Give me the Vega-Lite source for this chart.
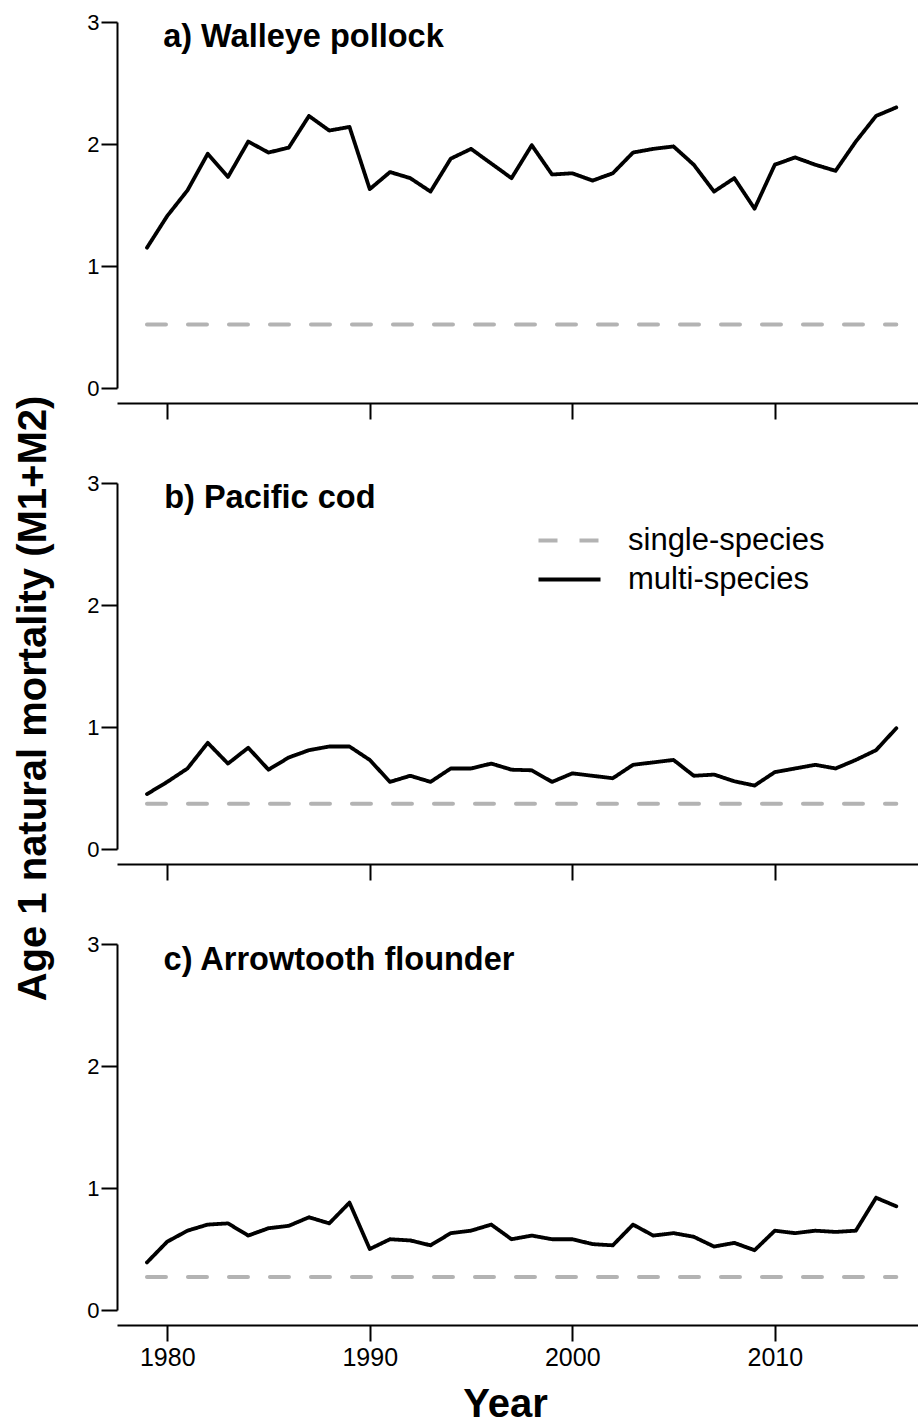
{
  "$schema": "https://vega.github.io/schema/vega-lite/v6.json",
  "background": "white",
  "padding": {"left": 12, "top": 11, "right": 0, "bottom": 0},
  "bounds": "flush",
  "spacing": 95,
  "config": {
    "view": {"stroke": null},
    "font": "Liberation Sans",
    "axis": {
      "grid": false,
      "domainColor": "black",
      "domainWidth": 2,
      "tickColor": "black",
      "tickWidth": 2,
      "labelColor": "black",
      "labelFont": "Liberation Sans",
      "titleFont": "Liberation Sans",
      "titleColor": "black"
    },
    "legend": {"labelFont": "Liberation Sans", "labelColor": "black"}
  },
  "resolve": {
    "scale": {"x": "independent", "y": "independent", "color": "independent", "strokeDash": "independent", "strokeWidth": "independent"},
    "axis": {"x": "independent", "y": "independent"},
    "legend": {"color": "independent", "strokeDash": "independent", "strokeWidth": "independent"}
  },
  "datasets": {
    "mort": [
      {"panel": "a", "year": 1979, "type": "multi-species", "value": 1.15},
      {"panel": "a", "year": 1980, "type": "multi-species", "value": 1.41},
      {"panel": "a", "year": 1981, "type": "multi-species", "value": 1.62},
      {"panel": "a", "year": 1982, "type": "multi-species", "value": 1.92},
      {"panel": "a", "year": 1983, "type": "multi-species", "value": 1.73},
      {"panel": "a", "year": 1984, "type": "multi-species", "value": 2.02},
      {"panel": "a", "year": 1985, "type": "multi-species", "value": 1.93},
      {"panel": "a", "year": 1986, "type": "multi-species", "value": 1.97},
      {"panel": "a", "year": 1987, "type": "multi-species", "value": 2.23},
      {"panel": "a", "year": 1988, "type": "multi-species", "value": 2.11},
      {"panel": "a", "year": 1989, "type": "multi-species", "value": 2.14},
      {"panel": "a", "year": 1990, "type": "multi-species", "value": 1.63},
      {"panel": "a", "year": 1991, "type": "multi-species", "value": 1.77},
      {"panel": "a", "year": 1992, "type": "multi-species", "value": 1.72},
      {"panel": "a", "year": 1993, "type": "multi-species", "value": 1.61},
      {"panel": "a", "year": 1994, "type": "multi-species", "value": 1.88},
      {"panel": "a", "year": 1995, "type": "multi-species", "value": 1.96},
      {"panel": "a", "year": 1996, "type": "multi-species", "value": 1.84},
      {"panel": "a", "year": 1997, "type": "multi-species", "value": 1.72},
      {"panel": "a", "year": 1998, "type": "multi-species", "value": 1.99},
      {"panel": "a", "year": 1999, "type": "multi-species", "value": 1.75},
      {"panel": "a", "year": 2000, "type": "multi-species", "value": 1.76},
      {"panel": "a", "year": 2001, "type": "multi-species", "value": 1.70},
      {"panel": "a", "year": 2002, "type": "multi-species", "value": 1.76},
      {"panel": "a", "year": 2003, "type": "multi-species", "value": 1.93},
      {"panel": "a", "year": 2004, "type": "multi-species", "value": 1.96},
      {"panel": "a", "year": 2005, "type": "multi-species", "value": 1.98},
      {"panel": "a", "year": 2006, "type": "multi-species", "value": 1.83},
      {"panel": "a", "year": 2007, "type": "multi-species", "value": 1.61},
      {"panel": "a", "year": 2008, "type": "multi-species", "value": 1.72},
      {"panel": "a", "year": 2009, "type": "multi-species", "value": 1.47},
      {"panel": "a", "year": 2010, "type": "multi-species", "value": 1.83},
      {"panel": "a", "year": 2011, "type": "multi-species", "value": 1.89},
      {"panel": "a", "year": 2012, "type": "multi-species", "value": 1.83},
      {"panel": "a", "year": 2013, "type": "multi-species", "value": 1.78},
      {"panel": "a", "year": 2014, "type": "multi-species", "value": 2.02},
      {"panel": "a", "year": 2015, "type": "multi-species", "value": 2.23},
      {"panel": "a", "year": 2016, "type": "multi-species", "value": 2.30},
      {"panel": "a", "year": 1979, "type": "single-species", "value": 0.52},
      {"panel": "a", "year": 1980, "type": "single-species", "value": 0.52},
      {"panel": "a", "year": 1981, "type": "single-species", "value": 0.52},
      {"panel": "a", "year": 1982, "type": "single-species", "value": 0.52},
      {"panel": "a", "year": 1983, "type": "single-species", "value": 0.52},
      {"panel": "a", "year": 1984, "type": "single-species", "value": 0.52},
      {"panel": "a", "year": 1985, "type": "single-species", "value": 0.52},
      {"panel": "a", "year": 1986, "type": "single-species", "value": 0.52},
      {"panel": "a", "year": 1987, "type": "single-species", "value": 0.52},
      {"panel": "a", "year": 1988, "type": "single-species", "value": 0.52},
      {"panel": "a", "year": 1989, "type": "single-species", "value": 0.52},
      {"panel": "a", "year": 1990, "type": "single-species", "value": 0.52},
      {"panel": "a", "year": 1991, "type": "single-species", "value": 0.52},
      {"panel": "a", "year": 1992, "type": "single-species", "value": 0.52},
      {"panel": "a", "year": 1993, "type": "single-species", "value": 0.52},
      {"panel": "a", "year": 1994, "type": "single-species", "value": 0.52},
      {"panel": "a", "year": 1995, "type": "single-species", "value": 0.52},
      {"panel": "a", "year": 1996, "type": "single-species", "value": 0.52},
      {"panel": "a", "year": 1997, "type": "single-species", "value": 0.52},
      {"panel": "a", "year": 1998, "type": "single-species", "value": 0.52},
      {"panel": "a", "year": 1999, "type": "single-species", "value": 0.52},
      {"panel": "a", "year": 2000, "type": "single-species", "value": 0.52},
      {"panel": "a", "year": 2001, "type": "single-species", "value": 0.52},
      {"panel": "a", "year": 2002, "type": "single-species", "value": 0.52},
      {"panel": "a", "year": 2003, "type": "single-species", "value": 0.52},
      {"panel": "a", "year": 2004, "type": "single-species", "value": 0.52},
      {"panel": "a", "year": 2005, "type": "single-species", "value": 0.52},
      {"panel": "a", "year": 2006, "type": "single-species", "value": 0.52},
      {"panel": "a", "year": 2007, "type": "single-species", "value": 0.52},
      {"panel": "a", "year": 2008, "type": "single-species", "value": 0.52},
      {"panel": "a", "year": 2009, "type": "single-species", "value": 0.52},
      {"panel": "a", "year": 2010, "type": "single-species", "value": 0.52},
      {"panel": "a", "year": 2011, "type": "single-species", "value": 0.52},
      {"panel": "a", "year": 2012, "type": "single-species", "value": 0.52},
      {"panel": "a", "year": 2013, "type": "single-species", "value": 0.52},
      {"panel": "a", "year": 2014, "type": "single-species", "value": 0.52},
      {"panel": "a", "year": 2015, "type": "single-species", "value": 0.52},
      {"panel": "a", "year": 2016, "type": "single-species", "value": 0.52},
      {"panel": "b", "year": 1979, "type": "multi-species", "value": 0.45},
      {"panel": "b", "year": 1980, "type": "multi-species", "value": 0.55},
      {"panel": "b", "year": 1981, "type": "multi-species", "value": 0.66},
      {"panel": "b", "year": 1982, "type": "multi-species", "value": 0.87},
      {"panel": "b", "year": 1983, "type": "multi-species", "value": 0.70},
      {"panel": "b", "year": 1984, "type": "multi-species", "value": 0.83},
      {"panel": "b", "year": 1985, "type": "multi-species", "value": 0.65},
      {"panel": "b", "year": 1986, "type": "multi-species", "value": 0.75},
      {"panel": "b", "year": 1987, "type": "multi-species", "value": 0.81},
      {"panel": "b", "year": 1988, "type": "multi-species", "value": 0.84},
      {"panel": "b", "year": 1989, "type": "multi-species", "value": 0.84},
      {"panel": "b", "year": 1990, "type": "multi-species", "value": 0.73},
      {"panel": "b", "year": 1991, "type": "multi-species", "value": 0.55},
      {"panel": "b", "year": 1992, "type": "multi-species", "value": 0.60},
      {"panel": "b", "year": 1993, "type": "multi-species", "value": 0.55},
      {"panel": "b", "year": 1994, "type": "multi-species", "value": 0.66},
      {"panel": "b", "year": 1995, "type": "multi-species", "value": 0.66},
      {"panel": "b", "year": 1996, "type": "multi-species", "value": 0.70},
      {"panel": "b", "year": 1997, "type": "multi-species", "value": 0.65},
      {"panel": "b", "year": 1998, "type": "multi-species", "value": 0.645},
      {"panel": "b", "year": 1999, "type": "multi-species", "value": 0.55},
      {"panel": "b", "year": 2000, "type": "multi-species", "value": 0.62},
      {"panel": "b", "year": 2001, "type": "multi-species", "value": 0.60},
      {"panel": "b", "year": 2002, "type": "multi-species", "value": 0.58},
      {"panel": "b", "year": 2003, "type": "multi-species", "value": 0.69},
      {"panel": "b", "year": 2004, "type": "multi-species", "value": 0.71},
      {"panel": "b", "year": 2005, "type": "multi-species", "value": 0.73},
      {"panel": "b", "year": 2006, "type": "multi-species", "value": 0.60},
      {"panel": "b", "year": 2007, "type": "multi-species", "value": 0.61},
      {"panel": "b", "year": 2008, "type": "multi-species", "value": 0.555},
      {"panel": "b", "year": 2009, "type": "multi-species", "value": 0.52},
      {"panel": "b", "year": 2010, "type": "multi-species", "value": 0.63},
      {"panel": "b", "year": 2011, "type": "multi-species", "value": 0.66},
      {"panel": "b", "year": 2012, "type": "multi-species", "value": 0.69},
      {"panel": "b", "year": 2013, "type": "multi-species", "value": 0.66},
      {"panel": "b", "year": 2014, "type": "multi-species", "value": 0.73},
      {"panel": "b", "year": 2015, "type": "multi-species", "value": 0.81},
      {"panel": "b", "year": 2016, "type": "multi-species", "value": 0.99},
      {"panel": "b", "year": 1979, "type": "single-species", "value": 0.37},
      {"panel": "b", "year": 1980, "type": "single-species", "value": 0.37},
      {"panel": "b", "year": 1981, "type": "single-species", "value": 0.37},
      {"panel": "b", "year": 1982, "type": "single-species", "value": 0.37},
      {"panel": "b", "year": 1983, "type": "single-species", "value": 0.37},
      {"panel": "b", "year": 1984, "type": "single-species", "value": 0.37},
      {"panel": "b", "year": 1985, "type": "single-species", "value": 0.37},
      {"panel": "b", "year": 1986, "type": "single-species", "value": 0.37},
      {"panel": "b", "year": 1987, "type": "single-species", "value": 0.37},
      {"panel": "b", "year": 1988, "type": "single-species", "value": 0.37},
      {"panel": "b", "year": 1989, "type": "single-species", "value": 0.37},
      {"panel": "b", "year": 1990, "type": "single-species", "value": 0.37},
      {"panel": "b", "year": 1991, "type": "single-species", "value": 0.37},
      {"panel": "b", "year": 1992, "type": "single-species", "value": 0.37},
      {"panel": "b", "year": 1993, "type": "single-species", "value": 0.37},
      {"panel": "b", "year": 1994, "type": "single-species", "value": 0.37},
      {"panel": "b", "year": 1995, "type": "single-species", "value": 0.37},
      {"panel": "b", "year": 1996, "type": "single-species", "value": 0.37},
      {"panel": "b", "year": 1997, "type": "single-species", "value": 0.37},
      {"panel": "b", "year": 1998, "type": "single-species", "value": 0.37},
      {"panel": "b", "year": 1999, "type": "single-species", "value": 0.37},
      {"panel": "b", "year": 2000, "type": "single-species", "value": 0.37},
      {"panel": "b", "year": 2001, "type": "single-species", "value": 0.37},
      {"panel": "b", "year": 2002, "type": "single-species", "value": 0.37},
      {"panel": "b", "year": 2003, "type": "single-species", "value": 0.37},
      {"panel": "b", "year": 2004, "type": "single-species", "value": 0.37},
      {"panel": "b", "year": 2005, "type": "single-species", "value": 0.37},
      {"panel": "b", "year": 2006, "type": "single-species", "value": 0.37},
      {"panel": "b", "year": 2007, "type": "single-species", "value": 0.37},
      {"panel": "b", "year": 2008, "type": "single-species", "value": 0.37},
      {"panel": "b", "year": 2009, "type": "single-species", "value": 0.37},
      {"panel": "b", "year": 2010, "type": "single-species", "value": 0.37},
      {"panel": "b", "year": 2011, "type": "single-species", "value": 0.37},
      {"panel": "b", "year": 2012, "type": "single-species", "value": 0.37},
      {"panel": "b", "year": 2013, "type": "single-species", "value": 0.37},
      {"panel": "b", "year": 2014, "type": "single-species", "value": 0.37},
      {"panel": "b", "year": 2015, "type": "single-species", "value": 0.37},
      {"panel": "b", "year": 2016, "type": "single-species", "value": 0.37},
      {"panel": "c", "year": 1979, "type": "multi-species", "value": 0.39},
      {"panel": "c", "year": 1980, "type": "multi-species", "value": 0.56},
      {"panel": "c", "year": 1981, "type": "multi-species", "value": 0.65},
      {"panel": "c", "year": 1982, "type": "multi-species", "value": 0.70},
      {"panel": "c", "year": 1983, "type": "multi-species", "value": 0.71},
      {"panel": "c", "year": 1984, "type": "multi-species", "value": 0.61},
      {"panel": "c", "year": 1985, "type": "multi-species", "value": 0.67},
      {"panel": "c", "year": 1986, "type": "multi-species", "value": 0.69},
      {"panel": "c", "year": 1987, "type": "multi-species", "value": 0.76},
      {"panel": "c", "year": 1988, "type": "multi-species", "value": 0.71},
      {"panel": "c", "year": 1989, "type": "multi-species", "value": 0.88},
      {"panel": "c", "year": 1990, "type": "multi-species", "value": 0.50},
      {"panel": "c", "year": 1991, "type": "multi-species", "value": 0.58},
      {"panel": "c", "year": 1992, "type": "multi-species", "value": 0.57},
      {"panel": "c", "year": 1993, "type": "multi-species", "value": 0.53},
      {"panel": "c", "year": 1994, "type": "multi-species", "value": 0.63},
      {"panel": "c", "year": 1995, "type": "multi-species", "value": 0.65},
      {"panel": "c", "year": 1996, "type": "multi-species", "value": 0.70},
      {"panel": "c", "year": 1997, "type": "multi-species", "value": 0.58},
      {"panel": "c", "year": 1998, "type": "multi-species", "value": 0.61},
      {"panel": "c", "year": 1999, "type": "multi-species", "value": 0.58},
      {"panel": "c", "year": 2000, "type": "multi-species", "value": 0.58},
      {"panel": "c", "year": 2001, "type": "multi-species", "value": 0.54},
      {"panel": "c", "year": 2002, "type": "multi-species", "value": 0.53},
      {"panel": "c", "year": 2003, "type": "multi-species", "value": 0.70},
      {"panel": "c", "year": 2004, "type": "multi-species", "value": 0.61},
      {"panel": "c", "year": 2005, "type": "multi-species", "value": 0.63},
      {"panel": "c", "year": 2006, "type": "multi-species", "value": 0.60},
      {"panel": "c", "year": 2007, "type": "multi-species", "value": 0.52},
      {"panel": "c", "year": 2008, "type": "multi-species", "value": 0.55},
      {"panel": "c", "year": 2009, "type": "multi-species", "value": 0.49},
      {"panel": "c", "year": 2010, "type": "multi-species", "value": 0.65},
      {"panel": "c", "year": 2011, "type": "multi-species", "value": 0.63},
      {"panel": "c", "year": 2012, "type": "multi-species", "value": 0.65},
      {"panel": "c", "year": 2013, "type": "multi-species", "value": 0.64},
      {"panel": "c", "year": 2014, "type": "multi-species", "value": 0.65},
      {"panel": "c", "year": 2015, "type": "multi-species", "value": 0.92},
      {"panel": "c", "year": 2016, "type": "multi-species", "value": 0.85},
      {"panel": "c", "year": 1979, "type": "single-species", "value": 0.27},
      {"panel": "c", "year": 1980, "type": "single-species", "value": 0.27},
      {"panel": "c", "year": 1981, "type": "single-species", "value": 0.27},
      {"panel": "c", "year": 1982, "type": "single-species", "value": 0.27},
      {"panel": "c", "year": 1983, "type": "single-species", "value": 0.27},
      {"panel": "c", "year": 1984, "type": "single-species", "value": 0.27},
      {"panel": "c", "year": 1985, "type": "single-species", "value": 0.27},
      {"panel": "c", "year": 1986, "type": "single-species", "value": 0.27},
      {"panel": "c", "year": 1987, "type": "single-species", "value": 0.27},
      {"panel": "c", "year": 1988, "type": "single-species", "value": 0.27},
      {"panel": "c", "year": 1989, "type": "single-species", "value": 0.27},
      {"panel": "c", "year": 1990, "type": "single-species", "value": 0.27},
      {"panel": "c", "year": 1991, "type": "single-species", "value": 0.27},
      {"panel": "c", "year": 1992, "type": "single-species", "value": 0.27},
      {"panel": "c", "year": 1993, "type": "single-species", "value": 0.27},
      {"panel": "c", "year": 1994, "type": "single-species", "value": 0.27},
      {"panel": "c", "year": 1995, "type": "single-species", "value": 0.27},
      {"panel": "c", "year": 1996, "type": "single-species", "value": 0.27},
      {"panel": "c", "year": 1997, "type": "single-species", "value": 0.27},
      {"panel": "c", "year": 1998, "type": "single-species", "value": 0.27},
      {"panel": "c", "year": 1999, "type": "single-species", "value": 0.27},
      {"panel": "c", "year": 2000, "type": "single-species", "value": 0.27},
      {"panel": "c", "year": 2001, "type": "single-species", "value": 0.27},
      {"panel": "c", "year": 2002, "type": "single-species", "value": 0.27},
      {"panel": "c", "year": 2003, "type": "single-species", "value": 0.27},
      {"panel": "c", "year": 2004, "type": "single-species", "value": 0.27},
      {"panel": "c", "year": 2005, "type": "single-species", "value": 0.27},
      {"panel": "c", "year": 2006, "type": "single-species", "value": 0.27},
      {"panel": "c", "year": 2007, "type": "single-species", "value": 0.27},
      {"panel": "c", "year": 2008, "type": "single-species", "value": 0.27},
      {"panel": "c", "year": 2009, "type": "single-species", "value": 0.27},
      {"panel": "c", "year": 2010, "type": "single-species", "value": 0.27},
      {"panel": "c", "year": 2011, "type": "single-species", "value": 0.27},
      {"panel": "c", "year": 2012, "type": "single-species", "value": 0.27},
      {"panel": "c", "year": 2013, "type": "single-species", "value": 0.27},
      {"panel": "c", "year": 2014, "type": "single-species", "value": 0.27},
      {"panel": "c", "year": 2015, "type": "single-species", "value": 0.27},
      {"panel": "c", "year": 2016, "type": "single-species", "value": 0.27}
    ]
  },
  "vconcat": [
    {
      "width": 802,
      "height": 366,
      "layer": [
        {
          "data": {"name": "mort"},
          "transform": [{"filter": "datum.panel === 'a'"}],
          "mark": {"type": "line", "strokeCap": "round", "strokeJoin": "round"},
          "encoding": {
            "x": {"field": "year", "type": "quantitative", "scale": {"domain": [1977.52, 2017.12], "nice": false, "zero": false},
                  "axis": {"values": [1980, 1990, 2000, 2010], "tickSize": 16, "labels": false, "title": null, "offset": 15}},
            "y": {"field": "value", "type": "quantitative", "scale": {"domain": [0, 3], "nice": false, "zero": false},
                  "axis": {"values": [0, 1, 2, 3], "tickSize": 16, "labelPadding": 2, "labelFontSize": 22, "format": "d", "title": null}},
            "color": {"field": "type", "type": "nominal", "scale": {"domain": ["single-species", "multi-species"], "range": ["#b3b3b3", "#000000"]}, "legend": null},
            "strokeDash": {"field": "type", "type": "nominal", "scale": {"domain": ["single-species", "multi-species"], "range": [[19, 22], [1, 0]]}, "legend": null},
            "strokeWidth": {"field": "type", "type": "nominal", "scale": {"domain": ["single-species", "multi-species"], "range": [4, 3.8]}, "legend": null}
          }
        },
        {
          "data": {"values": [{"label": "a) Walleye pollock"}]},
          "mark": {"type": "text", "align": "left", "baseline": "alphabetic", "fontSize": 32.5, "fontWeight": "bold", "font": "Liberation Sans", "color": "black"},
          "encoding": {"text": {"field": "label"}, "x": {"datum": 1979.8}, "y": {"datum": 2.795}}
        }
      ]
    },
    {
      "width": 802,
      "height": 366,
      "layer": [
        {
          "data": {"name": "mort"},
          "transform": [{"filter": "datum.panel === 'b'"}],
          "mark": {"type": "line", "strokeCap": "round", "strokeJoin": "round"},
          "encoding": {
            "x": {"field": "year", "type": "quantitative", "scale": {"domain": [1977.52, 2017.12], "nice": false, "zero": false},
                  "axis": {"values": [1980, 1990, 2000, 2010], "tickSize": 16, "labels": false, "title": null, "offset": 15}},
            "y": {"field": "value", "type": "quantitative", "scale": {"domain": [0, 3], "nice": false, "zero": false},
                  "axis": {"values": [0, 1, 2, 3], "tickSize": 16, "labelPadding": 2, "labelFontSize": 22, "format": "d",
                           "title": "Age 1 natural mortality (M1+M2)", "titleFontSize": 40, "titleFontWeight": "bold",
                           "titleX": -72, "titleY": 215, "titleBaseline": "alphabetic", "titleAlign": "center", "titleAngle": 270}},
            "color": {"field": "type", "type": "nominal", "scale": {"domain": ["single-species", "multi-species"], "range": ["#b3b3b3", "#000000"]},
                      "legend": {"orient": "none", "legendX": 431, "legendY": 36, "title": null, "symbolType": "M-1.59,0H1.59", "symbolSize": 1521, "symbolStrokeWidth": 5, "labelFontSize": 31, "labelOffset": 37, "labelLimit": 500, "rowPadding": 2, "padding": 0}},
            "strokeDash": {"field": "type", "type": "nominal", "scale": {"domain": ["single-species", "multi-species"], "range": [[19, 22], [1, 0]]},
                      "legend": {"orient": "none", "legendX": 431, "legendY": 36, "title": null, "symbolType": "M-1.59,0H1.59", "symbolSize": 1521, "symbolStrokeWidth": 5, "labelFontSize": 31, "labelOffset": 37, "labelLimit": 500, "rowPadding": 2, "padding": 0}},
            "strokeWidth": {"field": "type", "type": "nominal", "scale": {"domain": ["single-species", "multi-species"], "range": [4, 3.8]}, "legend": null}
          }
        },
        {
          "data": {"values": [{"label": "b) Pacific cod"}]},
          "mark": {"type": "text", "align": "left", "baseline": "alphabetic", "fontSize": 32.5, "fontWeight": "bold", "font": "Liberation Sans", "color": "black"},
          "encoding": {"text": {"field": "label"}, "x": {"datum": 1979.85}, "y": {"datum": 2.795}}
        }
      ]
    },
    {
      "width": 802,
      "height": 366,
      "layer": [
        {
          "data": {"name": "mort"},
          "transform": [{"filter": "datum.panel === 'c'"}],
          "mark": {"type": "line", "strokeCap": "round", "strokeJoin": "round"},
          "encoding": {
            "x": {"field": "year", "type": "quantitative", "scale": {"domain": [1977.52, 2017.12], "nice": false, "zero": false},
                  "axis": {"values": [1980, 1990, 2000, 2010], "tickSize": 16, "labelPadding": 4, "labelFontSize": 25, "labelFlush": false, "format": "d", "offset": 15,
                           "title": "Year", "titleFontSize": 40, "titleFontWeight": "bold", "titleX": 388, "titleY": 91, "titleBaseline": "alphabetic"}},
            "y": {"field": "value", "type": "quantitative", "scale": {"domain": [0, 3], "nice": false, "zero": false},
                  "axis": {"values": [0, 1, 2, 3], "tickSize": 16, "labelPadding": 2, "labelFontSize": 22, "format": "d", "title": null}},
            "color": {"field": "type", "type": "nominal", "scale": {"domain": ["single-species", "multi-species"], "range": ["#b3b3b3", "#000000"]}, "legend": null},
            "strokeDash": {"field": "type", "type": "nominal", "scale": {"domain": ["single-species", "multi-species"], "range": [[19, 22], [1, 0]]}, "legend": null},
            "strokeWidth": {"field": "type", "type": "nominal", "scale": {"domain": ["single-species", "multi-species"], "range": [4, 3.8]}, "legend": null}
          }
        },
        {
          "data": {"values": [{"label": "c) Arrowtooth flounder"}]},
          "mark": {"type": "text", "align": "left", "baseline": "alphabetic", "fontSize": 32.5, "fontWeight": "bold", "font": "Liberation Sans", "color": "black"},
          "encoding": {"text": {"field": "label"}, "x": {"datum": 1979.82}, "y": {"datum": 2.787}}
        }
      ]
    }
  ]
}
